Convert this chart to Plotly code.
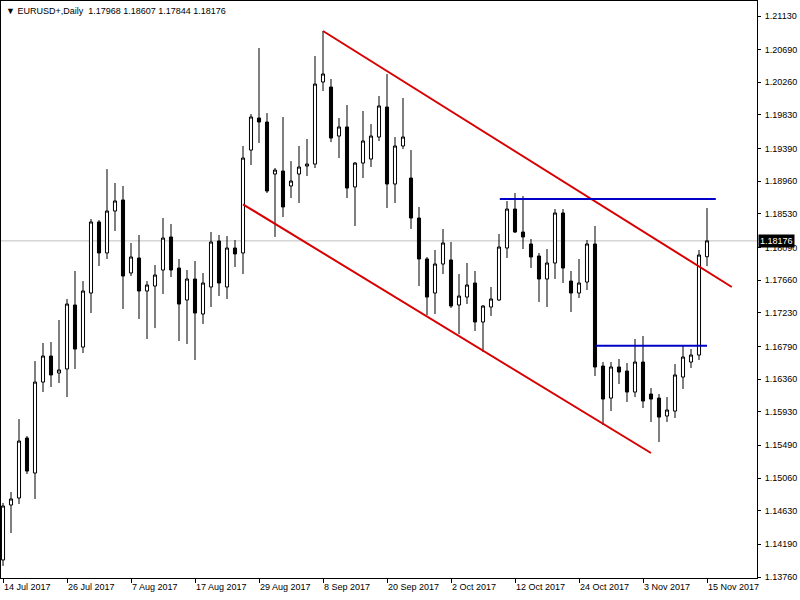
import plotly.graph_objects as go

# ---- data ----
symbol = "EURUSD+,Daily"
tick_labels = ["14 Jul 2017", "26 Jul 2017", "7 Aug 2017", "17 Aug 2017", "29 Aug 2017",
               "8 Sep 2017", "20 Sep 2017", "2 Oct 2017", "12 Oct 2017", "24 Oct 2017",
               "3 Nov 2017", "15 Nov 2017"]
tick_bars = [0, 8, 16, 24, 32, 40, 48, 56, 64, 72, 80, 88]

opens = [1.13984, 1.14706, 1.14798, 1.15586, 1.15126, 1.16321, 1.16663, 1.16440, 1.16493, 1.17333,
         1.16781, 1.17491, 1.18424, 1.18017, 1.18568, 1.18713, 1.17754, 1.17951, 1.17517, 1.17583,
         1.17793, 1.18227, 1.17819, 1.17399, 1.17675, 1.17215, 1.17570, 1.18174, 1.17570, 1.18082,
         1.18017, 1.19369, 1.19790, 1.19737, 1.19054, 1.19093, 1.18897, 1.19054, 1.19159, 1.19185,
         1.20263, 1.20197, 1.19553, 1.19672, 1.18884, 1.19198, 1.19251, 1.19540, 1.19934, 1.18923,
         1.19422, 1.19001, 1.18476, 1.17938, 1.17491, 1.17872, 1.17925, 1.17333, 1.17438, 1.17622,
         1.17110, 1.17307, 1.17399, 1.18082, 1.18594, 1.18292, 1.18135, 1.17977, 1.17675, 1.17885,
         1.18542, 1.17648, 1.17491, 1.17635, 1.18135, 1.16532, 1.16111, 1.16519, 1.16466, 1.16190,
         1.16584, 1.16164, 1.16111, 1.15875, 1.15940, 1.16387, 1.16584, 1.16676, 1.17968]
highs = [1.14733, 1.14877, 1.15835, 1.15612, 1.16597, 1.16834, 1.16847, 1.17136, 1.17412, 1.17780,
         1.17648, 1.18463, 1.18450, 1.19119, 1.18936, 1.18897, 1.18148, 1.18253, 1.17648, 1.17859,
         1.18476, 1.18397, 1.17938, 1.17793, 1.17911, 1.17754, 1.18292, 1.18253, 1.18240, 1.18187,
         1.19422, 1.19842, 1.20709, 1.19855, 1.19133, 1.19803, 1.19224, 1.19422, 1.19514, 1.20604,
         1.20933, 1.20302, 1.19790, 1.19961, 1.19212, 1.19882, 1.19711, 1.20079, 1.20368, 1.19540,
         1.20053, 1.19369, 1.18621, 1.17964, 1.18056, 1.18332, 1.18161, 1.17740, 1.17885, 1.17780,
         1.17333, 1.17570, 1.18266, 1.18699, 1.18805, 1.18765, 1.18200, 1.18017, 1.18069, 1.18594,
         1.18594, 1.17780, 1.17938, 1.18187, 1.18371, 1.16584, 1.16584, 1.16624, 1.16571, 1.16887,
         1.16926, 1.16243, 1.16164, 1.16124, 1.16558, 1.16795, 1.16755, 1.18056, 1.18607]
lows = [1.13905, 1.14338, 1.14719, 1.15113, 1.14785, 1.16190, 1.16256, 1.16308, 1.16124, 1.16493,
        1.16703, 1.17228, 1.17846, 1.17938, 1.18305, 1.17281, 1.17714, 1.17149, 1.16887, 1.17030,
        1.17478, 1.17701, 1.16860, 1.16821, 1.16611, 1.17083, 1.17307, 1.17451, 1.17412, 1.17833,
        1.17740, 1.19172, 1.19461, 1.18805, 1.18227, 1.18489, 1.18739, 1.18673, 1.19028, 1.19133,
        1.20144, 1.19474, 1.19264, 1.18739, 1.18371, 1.19001, 1.19146, 1.19488, 1.18608, 1.18673,
        1.19382, 1.18332, 1.17583, 1.17202, 1.17215, 1.17740, 1.17294, 1.16952, 1.17346, 1.16992,
        1.16716, 1.17189, 1.17386, 1.17951, 1.18279, 1.18069, 1.17819, 1.17373, 1.17307, 1.17675,
        1.17622, 1.17241, 1.17425, 1.17530, 1.16400, 1.15757, 1.15940, 1.16295, 1.16059, 1.16124,
        1.15980, 1.15796, 1.15533, 1.15796, 1.15849, 1.16230, 1.16506, 1.16611, 1.17844]
closes = [1.14693, 1.14785, 1.15546, 1.15152, 1.16321, 1.16663, 1.16414, 1.16480, 1.17346, 1.16755,
          1.17517, 1.18424, 1.18017, 1.18568, 1.18700, 1.17714, 1.17964, 1.17517, 1.17596, 1.17727,
          1.18213, 1.17793, 1.17346, 1.17675, 1.17228, 1.17622, 1.18161, 1.17622, 1.18082, 1.18004,
          1.19264, 1.19803, 1.19737, 1.18831, 1.19106, 1.18621, 1.18962, 1.19146, 1.19185, 1.20236,
          1.20368, 1.19527, 1.19672, 1.18870, 1.19198, 1.19488, 1.19553, 1.19948, 1.18923, 1.19422,
          1.19540, 1.18476, 1.17938, 1.17438, 1.17872, 1.18148, 1.17320, 1.17451, 1.17596, 1.17110,
          1.17320, 1.17412, 1.18095, 1.18594, 1.18292, 1.18227, 1.17964, 1.17675, 1.17885, 1.18542,
          1.17819, 1.17491, 1.17622, 1.18135, 1.16519, 1.16098, 1.16519, 1.16453, 1.16190, 1.16584,
          1.16072, 1.16098, 1.15861, 1.15954, 1.16414, 1.16650, 1.16676, 1.17990, 1.18176]

price_ticks = [1.21130, 1.20690, 1.20260, 1.19830, 1.19390, 1.18960, 1.18530, 1.18090,
               1.17660, 1.17230, 1.16790, 1.16360, 1.15930, 1.15490, 1.15060, 1.14630,
               1.14190, 1.13760]

# drawn objects (bar index, price)
upper_channel_x = [40, 91.1]
upper_channel_y = [1.20933, 1.17570]
lower_channel_x = [30, 81]
lower_channel_y = [1.18656, 1.15389]
resist_x = [62.1, 89.1]
resist_y = [1.18726, 1.18726]
support_x = [74.1, 88.0]
support_y = [1.16798, 1.16798]

bars = list(range(len(opens)))

FONT = "Liberation Sans"

fig = go.Figure()
fig.add_trace(go.Candlestick(
    x=bars, open=opens, high=highs, low=lows, close=closes,
    increasing=dict(line=dict(color="black", width=1), fillcolor="white"),
    decreasing=dict(line=dict(color="black", width=1), fillcolor="black"),
    whiskerwidth=0, showlegend=False, hoverinfo="skip"))

fig.add_hline(y=closes[-1], line=dict(color="#C0C0C0", width=1), layer="below")

for xs, ys, col in [(upper_channel_x, upper_channel_y, "#D80000"),
                    (lower_channel_x, lower_channel_y, "#D80000"),
                    (resist_x, resist_y, "#0000C8"),
                    (support_x, support_y, "#0000C8")]:
    fig.add_trace(go.Scatter(x=xs, y=ys, mode="lines",
                             line=dict(color=col, width=2),
                             showlegend=False, hoverinfo="skip"))

fig.update_layout(
    width=800, height=600,
    margin=dict(l=1, r=43, t=1, b=22, autoexpand=False),
    boxgap=0.45,
    paper_bgcolor="white", plot_bgcolor="white",
    font=dict(family=FONT, size=9, color="black"),
    showlegend=False,
    xaxis=dict(range=[-0.25, 94.25], rangeslider=dict(visible=False),
               automargin=False,
               tickmode="array", tickvals=tick_bars, ticktext=tick_labels,
               ticks="outside", ticklen=4, tickcolor="black",
               ticklabelposition="outside right",
               showgrid=False, zeroline=False,
               showline=True, linecolor="black", linewidth=1, mirror=True,
               tickfont=dict(family=FONT, size=9, color="black")),
    yaxis=dict(range=[1.13747, 1.21327], side="right", automargin=False,
               tickmode="array", tickvals=price_ticks,
               ticktext=[f"{v:.5f}" for v in price_ticks],
               ticks="outside", ticklen=3, tickcolor="black",
               ticklabelstandoff=2,
               showgrid=False, zeroline=False,
               showline=True, linecolor="black", linewidth=1, mirror=True,
               tickfont=dict(family=FONT, size=9, color="black")),
)

fig.add_annotation(xref="paper", yref="y", x=1, y=closes[-1],
                   xanchor="left", yanchor="middle", xshift=1,
                   text=f"{closes[-1]:.5f}", showarrow=False,
                   bgcolor="black", font=dict(family=FONT, size=9, color="white"),
                   borderpad=1)

fig.add_annotation(xref="paper", yref="paper", x=0, y=1, xanchor="left", yanchor="top",
                   xshift=3, yshift=-3, showarrow=False,
                   text=f"▼ {symbol}  {opens[-1]:.5f} {highs[-1]:.5f} {lows[-1]:.5f} {closes[-1]:.5f}",
                   font=dict(family=FONT, size=9, color="black"))

fig.write_html("out.html", config={"displayModeBar": False},
               post_script="document.body.style.margin='0';document.body.style.overflow='hidden';")
